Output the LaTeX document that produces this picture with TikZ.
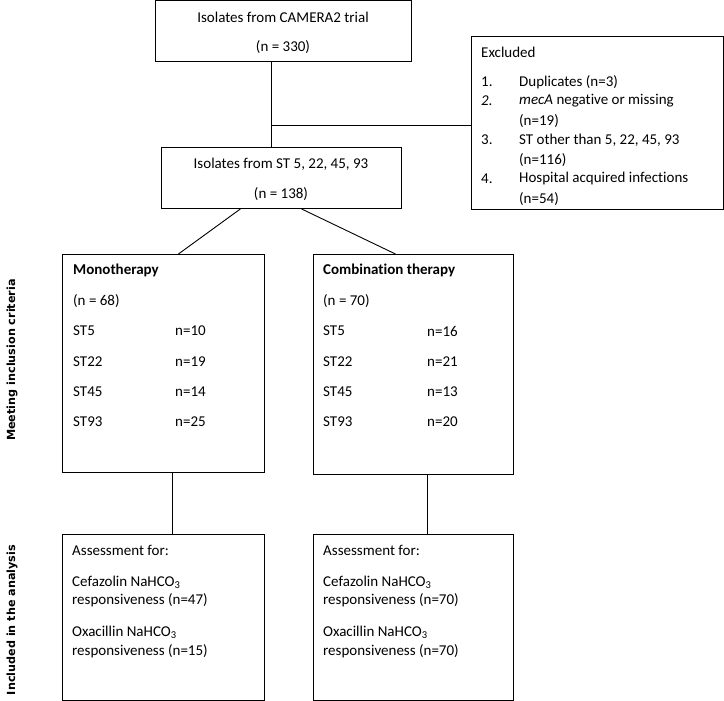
\documentclass[tikz,border=0pt]{standalone}
\usepackage{fontspec}
\setmainfont[Ligatures=NoCommon]{Carlito}
\newfontfamily\sidefont{DejaVu Sans}

\begin{document}
\begin{tikzpicture}[x=1pt,y=-1pt,
                      flowbox/.style={draw, line width=0.9pt, inner sep=0pt, anchor=north west},
                      boxtext/.style={anchor=west, inner sep=0pt, font=\fontsize{15}{17}\selectfont},
                      centertext/.style={boxtext, anchor=center},
                      sidelabel/.style={rotate=90, inner sep=0pt, font=\sidefont\bfseries\fontsize{11.2}{13}\selectfont},
                  ]
                  \useasboundingbox (0,0) rectangle (724,701);

                  %Boxes
                  \node[flowbox, minimum width=256pt, minimum height=61pt]  (trial)       at (155,0)   {};
                  \node[flowbox, minimum width=252pt, minimum height=173pt] (excluded)    at (471,36)  {};
                  \node[flowbox, minimum width=240pt, minimum height=61pt]  (st)          at (161,147) {};
                  \node[flowbox, minimum width=202pt, minimum height=218pt] (mono)        at (62,254)  {};
                  \node[flowbox, minimum width=200pt, minimum height=220pt] (combo)       at (313,254) {};
                  \node[flowbox, minimum width=202pt, minimum height=166pt] (monoassess)  at (62,534)  {};
                  \node[flowbox, minimum width=200pt, minimum height=166pt] (comboassess) at (313,534) {};

                  %Texts
                  \node[centertext] (trial-title) at (283,17) {Isolates from CAMERA2 trial};
                  \node[centertext] (trial-n)     at (283,47) {(n = 330)};
                  \node[centertext] (st-title)    at (281,164) {Isolates from ST 5, 22, 45, 93};
                  \node[centertext] (st-n)        at (281,194) {(n = 138)};

                  \node[boxtext] (excl-title) at (481,52) {Excluded};
                  \node[boxtext] (excl-1)  at (481,82)  {1.};
                  \node[boxtext] (excl-1t) at (519,82)  {Duplicates (n=3)};
                  \node[boxtext] (excl-2)  at (481,101) {\itshape 2.};
                  \node[boxtext] (excl-2t) at (519,101) {\textit{mecA} negative or missing};
                  \node[boxtext] (excl-2n) at (519,121) {(n=19)};
                  \node[boxtext] (excl-3)  at (481,140) {3.};
                  \node[boxtext] (excl-3t) at (519,140) {ST other than 5, 22, 45, 93};
                  \node[boxtext] (excl-3n) at (519,160) {(n=116)};
                  \node[boxtext] (excl-4)  at (481,179) {4.};
                  \node[boxtext] (excl-4t) at (519,179) {Hospital acquired infections};
                  \node[boxtext] (excl-4n) at (519,199) {(n=54)};

                  \node[boxtext] (mono-title)  at (73,270)  {\bfseries Monotherapy};
                  \node[boxtext] (mono-n)      at (73,301)  {(n = 68)};
                  \node[boxtext] (combo-title) at (323,270) {\bfseries Combination therapy};
                  \node[boxtext] (combo-n)     at (323,301) {(n = 70)};
                  \foreach \sttype/\mcount/\ccount [count=\i] in {ST5/10/16, ST22/19/21, ST45/14/13, ST93/25/20} {
                      \node[boxtext] (mono-st\i)   at (73,331+30.3*\i-30.3)  {\sttype};
                      \node[boxtext] (mono-n\i)    at (175,331+30.3*\i-30.3) {n=\mcount};
                      \node[boxtext] (combo-st\i)  at (323,331+30.3*\i-30.3) {\sttype};
                      \node[boxtext] (combo-n\i)   at (427,331+30.3*\i-30.3) {n=\ccount};
                  }

                  \foreach \assess/\xpos/\cef/\oxa in {monoassess/72/47/15, comboassess/323/70/70} {
                      \node[boxtext] (\assess-title) at (\xpos,550) {Assessment for:};
                      \node[boxtext] (\assess-cef)   at (\xpos,582) {Cefazolin NaHCO\textsubscript{3}};
                      \node[boxtext] (\assess-cefn)  at (\xpos,600) {responsiveness (n=\cef)};
                      \node[boxtext] (\assess-oxa)   at (\xpos,632) {Oxacillin NaHCO\textsubscript{3}};
                      \node[boxtext] (\assess-oxan)  at (\xpos,651) {responsiveness (n=\oxa)};
                  }

                  %Side labels
                  \node[sidelabel] (criteria) at (12,360) {Meeting inclusion criteria};
                  \node[sidelabel] (analysis) at (12,620) {Included in the analysis};

                  %Lines
                  \coordinate (trunk) at (271,125);
                  \draw[line width=0.9pt] (trial.south -| trunk) -- (st.north -| trunk);
                  \draw[line width=0.9pt] (trunk) -- (excluded.west |- trunk);
                  \draw[line width=0.9pt] ([xshift=-41pt]st.south) -- ([xshift=15pt]mono.north);
                  \draw[line width=0.9pt] ([xshift=20pt]st.south) -- ([xshift=-18pt]combo.north);
                  \draw[line width=0.9pt] ([xshift=9pt]mono.south) -- ([xshift=9pt]monoassess.north);
                  \draw[line width=0.9pt] ([xshift=14pt]combo.south) -- ([xshift=14pt]comboassess.north);
\end{tikzpicture}
\end{document}
